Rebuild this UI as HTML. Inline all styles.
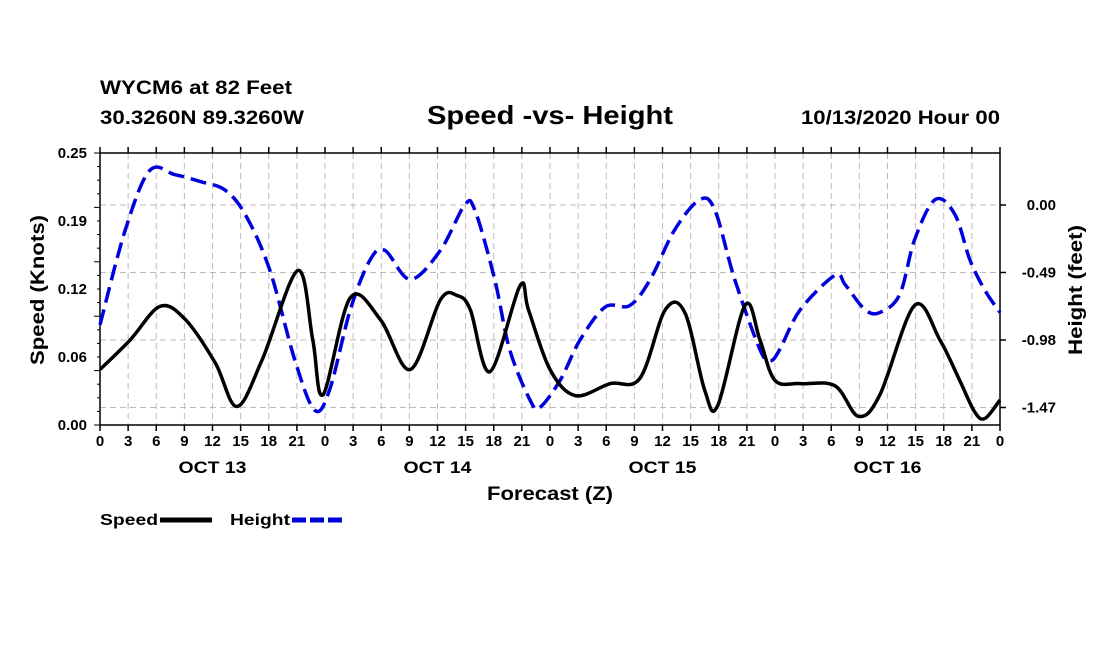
<!DOCTYPE html>
<html><head><meta charset="utf-8"><style>
body{margin:0;background:#fff;}
svg{display:block;font-family:"Liberation Sans",sans-serif;font-weight:bold;}
</style></head><body>
<svg id="chart" width="1100" height="650" viewBox="0 0 1100 650">
<rect width="1100" height="650" fill="#fff"/>
<text x="100" y="94" font-size="19" textLength="192" lengthAdjust="spacingAndGlyphs">WYCM6 at 82 Feet</text>
<text x="100" y="124" font-size="19" textLength="204" lengthAdjust="spacingAndGlyphs">30.3260N 89.3260W</text>
<text x="427" y="124" font-size="26" textLength="246" lengthAdjust="spacingAndGlyphs">Speed -vs- Height</text>
<text x="801" y="124" font-size="19" textLength="199" lengthAdjust="spacingAndGlyphs">10/13/2020 Hour 00</text>
<g id="grid"></g><g id="axes"></g><g id="series"></g>
<text x="487" y="500" font-size="19" textLength="126" lengthAdjust="spacingAndGlyphs">Forecast (Z)</text>
<text transform="translate(44,365) rotate(-90)" font-size="19" textLength="150" lengthAdjust="spacingAndGlyphs">Speed (Knots)</text>
<text transform="translate(1082,355) rotate(-90)" font-size="19" textLength="130" lengthAdjust="spacingAndGlyphs">Height (feet)</text>
<g><text x="100" y="525" font-size="16" textLength="58" lengthAdjust="spacingAndGlyphs">Speed</text><line x1="160" y1="520" x2="212" y2="520" stroke="#000" stroke-width="5"/></g>
<g><text x="230" y="525" font-size="16" textLength="60" lengthAdjust="spacingAndGlyphs">Height</text><line x1="292" y1="520" x2="342" y2="520" stroke="#0000dd" stroke-width="5" stroke-dasharray="14,4"/></g>
</svg>
<script>
const hourTicks=[0,3,6,9,12,15,18,21,0,3,6,9,12,15,18,21,0,3,6,9,12,15,18,21,0,3,6,9,12,15,18,21,0];
const dayLabels=["OCT 13","OCT 14","OCT 15","OCT 16"];
const speedTicks=[0,0.0625,0.125,0.1875,0.25];
const speedTickLabels=["0.00","0.06","0.12","0.19","0.25"];
const heightTicks=[0,-0.49,-0.98,-1.47];
const heightTickLabels=["0.00","-0.49","-0.98","-1.47"];
const speedHours=[0,3.2,6.4,9.1,12.3,14.6,17.3,21.1,22.7,23.8,26.7,29.9,33.1,36.3,38.1,39.5,41.6,44.8,45.7,48,50.7,54.4,57.6,60.3,62.4,64.5,65.9,68.8,70.4,72,74.7,78.4,80.9,83.2,86.9,89.6,91.7,93.3,94.4,96];
const speedValues=[0.051,0.078,0.109,0.097,0.057,0.017,0.060,0.142,0.078,0.028,0.117,0.097,0.051,0.115,0.119,0.106,0.049,0.128,0.106,0.051,0.027,0.038,0.043,0.106,0.103,0.032,0.018,0.110,0.078,0.041,0.038,0.036,0.008,0.028,0.110,0.078,0.041,0.012,0.006,0.023];
const heightHours=[0,2.7,5.3,8,10.7,13.3,15.5,18.1,20.8,22.9,24.5,26.7,28.8,30.4,33.1,36.3,38.9,40,42.1,43.7,45.9,46.9,49.1,51.2,53.9,56.5,58.7,61.3,64,65.6,67.7,70.4,71.5,72.5,74.7,78.4,79.5,81.6,83.2,85.3,86.9,89.1,91.2,92.8,94.4,96];
const heightValues=[-0.87,-0.18,0.25,0.22,0.17,0.11,-0.07,-0.47,-1.13,-1.49,-1.34,-0.76,-0.40,-0.33,-0.54,-0.33,0.00,-0.04,-0.54,-1.05,-1.42,-1.47,-1.27,-0.98,-0.74,-0.73,-0.54,-0.18,0.04,-0.04,-0.54,-1.05,-1.13,-1.05,-0.76,-0.51,-0.58,-0.76,-0.78,-0.65,-0.25,0.04,-0.07,-0.40,-0.62,-0.78];
const L=100,R=1000,T=153,B=425;
const xS=h=>L+h/96*(R-L);
const yS=v=>B-v/0.25*(B-T);
const yH=v=>205-v/0.49*67.5;
const NS="http://www.w3.org/2000/svg";
function mk(tag,attrs,parent){const e=document.createElementNS(NS,tag);for(const k in attrs)e.setAttribute(k,attrs[k]);parent.appendChild(e);return e;}
const grid=document.getElementById('grid'),axes=document.getElementById('axes'),ser=document.getElementById('series');
hourTicks.forEach((t,i)=>{const x=xS(i*3);
 if(i>0&&i<hourTicks.length-1){const g=mk('line',{x1:x,x2:x,y1:T,y2:B,stroke:'#bbb','stroke-width':1,'stroke-dasharray':'6,4'},grid);
 }
 mk('line',{x1:x,x2:x,y1:B,y2:B+6,stroke:'#000','stroke-width':1.5},axes);
 mk('line',{x1:x,x2:x,y1:T,y2:T-6,stroke:'#000','stroke-width':1.5},axes);
 const tx=mk('text',{x:x,y:B+21,'font-size':15,'text-anchor':'middle'},axes);tx.textContent=t;
 
});
dayLabels.forEach((d,i)=>{const tx=mk('text',{x:xS(12+24*i)-34,y:B+48,'font-size':17,textLength:68,lengthAdjust:'spacingAndGlyphs'},axes);tx.textContent=d;
 });
for(let i=0;i<=20;i++){const y=B-i*(B-T)/20;mk('line',{x1:L,x2:L-(i%4==0?6:3),y1:y,y2:y,stroke:'#000','stroke-width':1},axes);}
speedTicks.forEach((v,i)=>{const tx=mk('text',{x:L-13,y:yS(v)+5,'font-size':15,'text-anchor':'end'},axes);tx.textContent=speedTickLabels[i];
 });
heightTicks.forEach((v,i)=>{const y=yH(v);
 const g=mk('line',{x1:L,x2:R,y1:y,y2:y,stroke:'#bbb','stroke-width':1,'stroke-dasharray':'6,4'},grid);
 
 mk('line',{x1:R,x2:R+6,y1:y,y2:y,stroke:'#000','stroke-width':1.5},axes);
 const tx=mk('text',{x:R+56,y:y+5,'font-size':15,'text-anchor':'end'},axes);tx.textContent=heightTickLabels[i];
 });
const fr=mk('rect',{x:L,y:T,width:R-L,height:B-T,fill:'none',stroke:'#000','stroke-width':1.5},axes);

function smooth(pts){let d=`M${pts[0][0]},${pts[0][1]}`;for(let i=0;i<pts.length-1;i++){const p0=pts[Math.max(0,i-1)],p1=pts[i],p2=pts[i+1],p3=pts[Math.min(pts.length-1,i+2)];
 const c1=[p1[0]+(p2[0]-p0[0])/6,p1[1]+(p2[1]-p0[1])/6],c2=[p2[0]-(p3[0]-p1[0])/6,p2[1]-(p3[1]-p1[1])/6];
 d+=`C${c1[0]},${c1[1]} ${c2[0]},${c2[1]} ${p2[0]},${p2[1]}`;}return d;}
const hp=mk('path',{d:smooth(heightHours.map((h,i)=>[xS(h),yH(heightValues[i])])),fill:'none',stroke:'#0000dd','stroke-width':3.5,'stroke-dasharray':'16,7'},ser);

const sp=mk('path',{d:smooth(speedHours.map((h,i)=>[xS(h),yS(speedValues[i])])),fill:'none',stroke:'#000','stroke-width':3.5},ser);

</script>
</body></html>
